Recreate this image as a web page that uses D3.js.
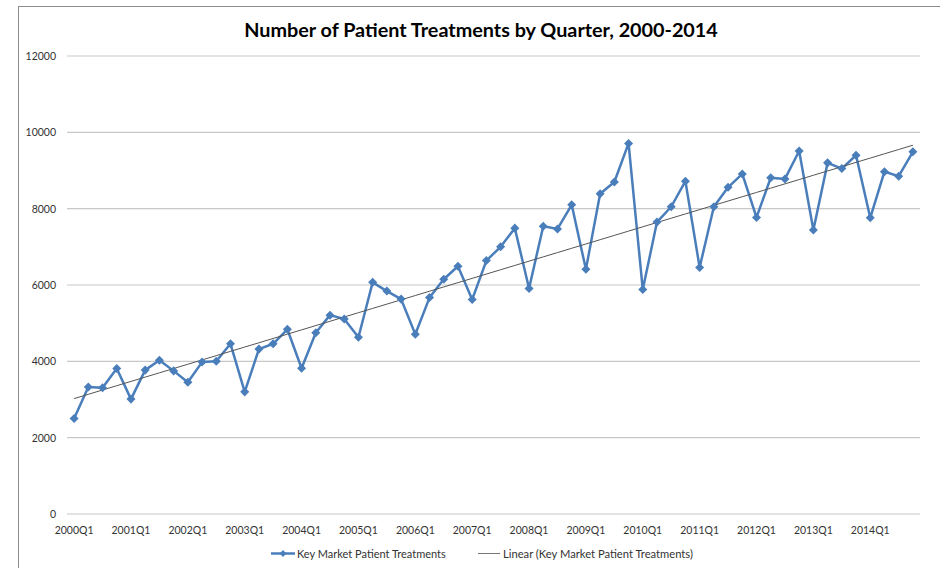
<!DOCTYPE html>
<html>
<head>
<meta charset="utf-8">
<script src="https://cdn.jsdelivr.net/npm/d3@7"></script>
<style>
  body { margin: 0; background: #fff; }
  svg text { font-family: Lato, "Open Sans", sans-serif; }
</style>
</head>
<body>
<div id="canvas"></div>
<script>
const width = 940;
const height = 568;

// quarters 2000Q1 .. 2014Q4
const years = d3.range(2000, 2015);
const quarters = years.flatMap(y => [1, 2, 3, 4].map(q => y + "Q" + q));

const treatments = [
    2500, 3330, 3310, 3810, 3010, 3770, 4030, 3750,
    3450, 3980, 4000, 4460, 3200, 4320, 4460, 4840,
    3820, 4750, 5210, 5110, 4630, 6070, 5840, 5630,
    4710, 5670, 6150, 6490, 5620, 6640, 7000, 7490,
    5910, 7540, 7470, 8100, 6410, 8390, 8700, 9710,
    5880, 7650, 8050, 8720, 6460, 8050, 8560, 8910,
    7770, 8810, 8780, 9510, 7440, 9200, 9050, 9400,
    7760, 8970, 8850, 9490
];

const yTicks = [0, 2000, 4000, 6000, 8000, 10000, 12000];
const seriesName = "Key Market Patient Treatments";
const trendName = "Linear (Key Market Patient Treatments)";
const title = "Number of Patient Treatments by Quarter, 2000-2014";

const blue = "#4a7ebb";

const plot = {left: 67, right: 920, top: 56, bottom: 514};

const svg = d3.select("#canvas")
    .append("svg")
    .attr("width", width)
    .attr("height", height);

// outer chart frame
svg.append("rect")
    .attr("x", 18.5).attr("y", 6.5)
    .attr("width", 940).attr("height", 600)
    .attr("fill", "none")
    .attr("stroke", "#8c8c8c")
    .attr("stroke-width", 1);

svg.append("text")
    .attr("x", 481).attr("y", 37)
    .attr("text-anchor", "middle")
    .attr("font-size", 19.8)
    .attr("font-weight", "bold")
    .attr("fill", "#000")
    .text(title);

var xScale = d3.scaleBand(quarters, [plot.left, plot.right]);
var xPos = d => xScale(d) + xScale.bandwidth() / 2;
var yScale = d3.scaleLinear([0, 12000], [plot.bottom, plot.top]);

// gridlines + y labels
svg.append("g")
    .selectAll("line")
    .data(yTicks)
    .join("line")
    .attr("x1", plot.left).attr("x2", plot.right)
    .attr("y1", d => yScale(d)).attr("y2", d => yScale(d))
    .attr("stroke", "#c8c8c8")
    .attr("stroke-width", 1.2);

svg.append("g")
    .selectAll("text")
    .data(yTicks)
    .join("text")
    .attr("x", 56)
    .attr("y", d => yScale(d) + 4)
    .attr("text-anchor", "end")
    .attr("font-size", 10.5)
    .attr("fill", "#333")
    .text(d => d);

// x labels, every 4th quarter
svg.append("g")
    .selectAll("text")
    .data(quarters.filter((d, i) => i % 4 === 0))
    .join("text")
    .attr("x", d => xPos(d))
    .attr("y", 534)
    .attr("text-anchor", "middle")
    .attr("font-size", 10.5)
    .attr("fill", "#333")
    .text(d => d);

// linear trend (least squares on index)
var n = treatments.length;
var idx = d3.range(n);
var mx = d3.mean(idx), my = d3.mean(treatments);
var slope = d3.sum(idx, i => (i - mx) * (treatments[i] - my)) / d3.sum(idx, i => (i - mx) * (i - mx));
var icpt = my - slope * mx;

var line = d3.line()
    .x((d, i) => xPos(quarters[i]))
    .y(d => yScale(d));

svg.append("path")
    .datum(treatments)
    .attr("d", line)
    .attr("fill", "none")
    .attr("stroke", blue)
    .attr("stroke-width", 2.5)
    .attr("stroke-linejoin", "round");

svg.append("path")
    .datum(idx.map(i => icpt + slope * i))
    .attr("d", line)
    .attr("fill", "none")
    .attr("stroke", "#555")
    .attr("stroke-width", 1);

var diamond = d3.symbol(d3.symbolDiamond2, 52);

svg.append("g")
    .selectAll("path")
    .data(treatments)
    .join("path")
    .attr("d", diamond)
    .attr("transform", (d, i) => `translate(${xPos(quarters[i])},${yScale(d)})`)
    .attr("fill", blue);

// legend
var lg = svg.append("g").attr("transform", "translate(0,553.5)");
lg.append("line")
    .attr("x1", 271).attr("x2", 295)
    .attr("stroke", blue).attr("stroke-width", 2.5);
lg.append("path")
    .attr("d", diamond)
    .attr("transform", "translate(283,0) scale(0.75)")
    .attr("fill", blue);
lg.append("text")
    .attr("x", 297).attr("y", 4)
    .attr("font-size", 11)
    .attr("fill", "#333")
    .text(seriesName);
lg.append("line")
    .attr("x1", 478).attr("x2", 500)
    .attr("stroke", "#777").attr("stroke-width", 1);
lg.append("text")
    .attr("x", 503).attr("y", 4)
    .attr("font-size", 11.2)
    .attr("fill", "#333")
    .text(trendName);
</script>
</body>
</html>
